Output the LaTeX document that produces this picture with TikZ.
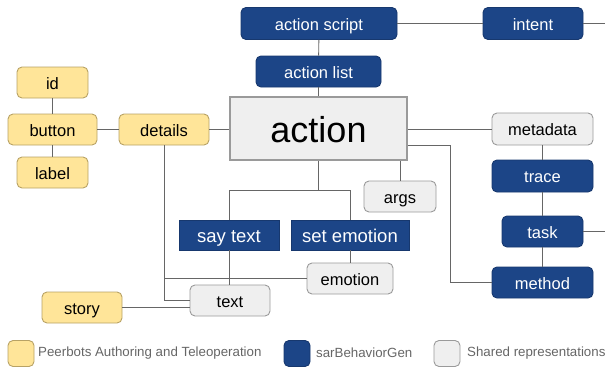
\documentclass[tikz,border=0pt]{standalone}
\usepackage{fontspec}
\setmainfont{Liberation Sans}
\usepackage{tikz}
\usetikzlibrary{calc}

\definecolor{peerfill}{HTML}{FFE599}
\definecolor{peerline}{HTML}{B8A265}
\definecolor{sarfill}{HTML}{1C4587}
\definecolor{sarline}{HTML}{17386E}
\definecolor{sharedfill}{HTML}{EFEFEF}
\definecolor{sharedline}{HTML}{9A9A9A}
\definecolor{wire}{HTML}{666666}

\begin{document}
\begin{tikzpicture}[x=1pt,y=-1pt,
  box/.style={inner sep=0pt, minimum height=31pt, text height=13pt, text depth=0pt,
    font=\fontsize{16.5}{16.5}\selectfont, line width=0.9pt},
  peer/.style={box, rounded corners=5pt, fill=peerfill, draw=peerline},
  sar/.style={box, rounded corners=5pt, fill=sarfill, draw=sarline, text=white},
  sarsq/.style={box, fill=sarfill, draw=sarline, text=white, minimum height=30pt,
    text height=14.5pt, font=\fontsize{18.5}{18.5}\selectfont},
  shared/.style={box, rounded corners=5pt, fill=sharedfill, draw=sharedline},
  wire/.style={draw=wire, line width=0.9pt},
  legtext/.style={anchor=west, inner sep=0pt, text=wire, font=\fontsize{13.3}{13.3}\selectfont}]
\useasboundingbox (0,0) rectangle (605,367);

% peerbots side
\node[peer, minimum width=71pt] (id) at (52.5,82.5) {id};
\node[peer, minimum width=89pt] (button) at (52.5,129.5) {button};
\node[peer, minimum width=71pt] (label) at (52.5,172.5) {label};
\node[peer, minimum width=90pt] (details) at (164,129.5) {details};
\node[peer, minimum width=80pt] (story) at (82,307.5) {story};

% the action
\node[box, fill=sharedfill, draw=sharedline, line width=1.6pt, minimum width=177pt, minimum height=63pt,
  text height=28.5pt, font=\fontsize{36}{36}\selectfont] (action) at (318.5,128.5) {action};

% sarBehaviorGen side
\node[sar, minimum width=156pt, minimum height=32pt] (script) at (319,23.5) {action script};
\node[sar, minimum width=125pt] (list) at (318.5,71.5) {action list};
\node[sar, minimum width=100pt, minimum height=32pt] (intent) at (533,23.5) {intent};
\node[sar, minimum width=101pt, minimum height=32pt] (trace) at (542.5,176) {trace};
\node[sar, minimum width=81pt] (task) at (542.5,231.5) {task};
\node[sar, minimum width=101pt] (method) at (542.5,282.5) {method};
\node[sarsq, minimum width=100pt] (say) at (229,235) {say text};
\node[sarsq, minimum width=118pt] (setemo) at (350,235) {set emotion};

% shared
\node[shared, minimum width=101pt, minimum height=32pt] (metadata) at (542.5,129) {metadata};
\node[shared, minimum width=72pt] (args) at (400,196.5) {args};
\node[shared, minimum width=86pt] (emotion) at (350,278.5) {emotion};
\node[shared, minimum width=80pt] (text) at (230,300.5) {text};

\coordinate (intentout) at (605,23.5);
\coordinate (taskout) at (605,231.5);

% connectors
\draw[wire] (id) -- (button);
\draw[wire] (button) -- (label);
\draw[wire] (button) -- (details);
\draw[wire] (details.east) -- (details.east -| action.west);
\draw[wire] (script) -- (list);
\draw[wire] (list.south -| action.north) -- (action.north);
\draw[wire] (script) -- (intent);
\draw[wire] (intent) -- (intentout);
\draw[wire] (metadata.west -| action.east) -- (metadata.west);
\draw[wire] (metadata) -- (trace);
\draw[wire] (trace) -- (task);
\draw[wire] (task) -- (method);
\draw[wire] (task) -- (taskout);
\draw[wire] ([yshift=-16.5pt]action.east) -- ++(43,0) |- (method.west);
\draw[wire] (args.north |- action.south) -- (args.north);
\draw[wire] (action.south) -- ++(0,30) coordinate (split);
\draw[wire] (say.north) |- (split) -| (setemo.north);
\draw[wire] (say.south) -- (say.south |- text.north);
\draw[wire] (setemo) -- (emotion);
\draw[wire] (details.south) |- (text.west);
\draw[wire] (emotion.west) -- (emotion.west -| details.south);
\draw[wire] (story.east) -- (story.east -| text.west);

% legend
\node[peer, minimum width=26pt, minimum height=26pt] (peerkey) at (21,353.5) {};
\node[legtext] (peertext) at (38,353) {Peerbots Authoring and Teleoperation};
\node[sar, minimum width=26pt, minimum height=26pt] (sarkey) at (297,353.5) {};
\node[legtext] (sartext) at (316,353) {sarBehaviorGen};
\node[shared, minimum width=26pt, minimum height=26pt] (sharedkey) at (447,353.5) {};
\node[legtext] (sharedtext) at (467,353) {Shared representations};
\end{tikzpicture}
\end{document}
